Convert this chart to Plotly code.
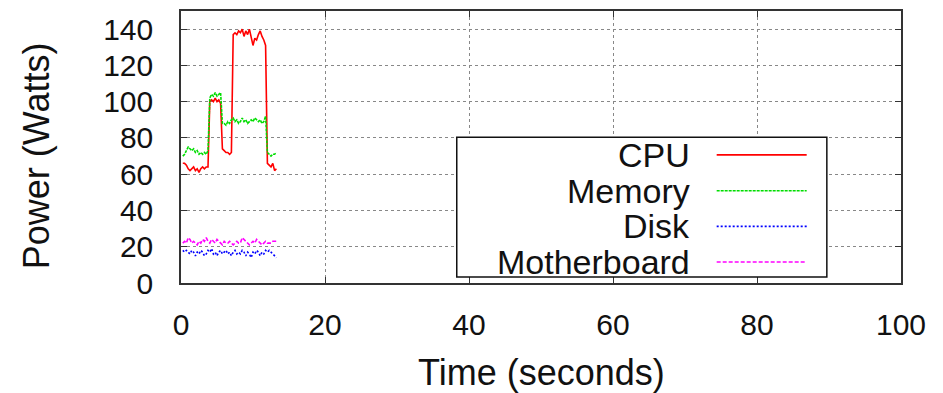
import plotly.graph_objects as go

time_s = [0.25, 0.5, 0.75, 1.0, 1.25, 1.5, 1.75, 2.0, 2.25, 2.5, 2.75, 3.0, 3.25, 3.5, 3.75,
          4.0, 4.25, 4.5, 4.75, 5.0, 5.25, 5.5, 5.75, 6.0, 6.25, 6.5, 6.75, 7.0, 7.25, 7.5,
          7.75, 8.0, 8.25, 8.5, 8.75, 9.0, 9.25, 9.5, 9.75, 10.0, 10.25, 10.5, 10.75, 11.0,
          11.25, 11.5, 11.75, 12.0, 12.25, 12.5, 12.75, 13.0, 13.25]

cpu = [66, 66, 65, 63, 62, 63, 64, 62, 63, 61, 63, 64, 63, 64, 64,
       100, 101, 100, 102, 100, 101, 99, 74, 73, 72, 72, 71, 72, 137, 138,
       137, 139, 138, 140, 136, 139, 137, 140, 136, 131, 135, 134, 137, 139,
       136, 134, 131, 66, 65, 64, 66, 62, 63]

memory = [70, 71, 73, 75, 74, 73, 74, 72, 73, 71, 72, 71, 72, 71, 73,
          102, 104, 103, 105, 103, 104, 105, 88, 88, 87, 89, 88, 90, 91, 89,
          90, 88, 89, 91, 89, 90, 88, 89, 90, 89, 91, 90, 89, 90,
          88, 89, 92, 72, 71, 70, 71, 71, 72]

disk = [18, 17, 18, 17, 16, 18, 17, 15, 17, 16, 18, 17, 15, 16, 18,
        17, 19, 16, 17, 15, 17, 18, 16, 17, 18, 16, 17, 15, 17, 18,
        16, 17, 16, 18, 17, 15, 17, 16, 14, 17, 16, 18, 17, 15,
        17, 16, 18, 17, 18, 17, 16, 15, 14]

motherboard = [22, 23, 22, 25, 24, 22, 23, 22, 21, 23, 22, 24, 23, 25, 23,
               22, 24, 23, 22, 24, 23, 22, 21, 23, 22, 22, 23, 22, 21, 22,
               23, 22, 22, 25, 24, 23, 22, 21, 22, 23, 22, 24, 23, 22,
               21, 22, 23, 22, 22, 22, 23, 23, 23]

series_names = ["CPU", "Memory", "Disk", "Motherboard"]
series_values = [cpu, memory, disk, motherboard]
colors = ["#ff0000", "#00dd00", "#0000ff", "#ff00ff"]
dashes = ["solid", "3px,1px", "2px,2px", "4px,2px"]

x_ticks = [0, 20, 40, 60, 80, 100]
y_ticks = [0, 20, 40, 60, 80, 100, 120, 140]

FONT = "Liberation Sans, Arial, Helvetica, sans-serif"

fig = go.Figure()
for name, vals, c, d in zip(series_names, series_values, colors, dashes):
    fig.add_trace(go.Scatter(x=time_s, y=vals, mode="lines", name=name,
                             line=dict(color=c, width=1.6, dash=d), showlegend=False))

axis_common = dict(
    showline=True, linecolor="#333", linewidth=1.5, mirror="ticks",
    ticks="inside", ticklen=6, tickcolor="#333", tickwidth=1,
    showgrid=True, gridcolor="#888", griddash="dot", gridwidth=1,
    zeroline=False, tickfont=dict(family=FONT, size=30, color="#111"),
)

fig.update_xaxes(range=[0, 100], tickvals=x_ticks, ticklabelstandoff=14, **axis_common)
fig.update_yaxes(range=[0, 150], tickvals=y_ticks, ticklabelstandoff=20, **axis_common)

# custom legend (text on left, sample on right) in paper coordinates
box = dict(x0=0.383, x1=0.897, y0=0.022, y1=0.536)
fig.add_shape(type="rect", xref="paper", yref="paper", **box,
              line=dict(color="#111", width=1.5), fillcolor="white", layer="above")
row_y = [0.471, 0.339, 0.208, 0.077]
for name, c, d, ry in zip(series_names, colors, dashes, row_y):
    fig.add_annotation(xref="paper", yref="paper", x=0.710, y=ry, text=name,
                       showarrow=False, xanchor="right", yanchor="middle",
                       font=dict(family=FONT, size=34, color="#111"))
    fig.add_shape(type="line", xref="paper", yref="paper", x0=0.744, x1=0.869,
                  y0=ry, y1=ry, line=dict(color=c, width=1.6, dash=d), layer="above")

# axis titles
fig.add_annotation(xref="paper", yref="paper", x=0.5, y=0, yshift=-89,
                   text="Time (seconds)", showarrow=False, xanchor="center",
                   yanchor="middle", font=dict(family=FONT, size=36, color="#111"))
fig.add_annotation(xref="paper", yref="paper", x=0, xshift=-145, y=0.466,
                   text="Power (Watts)", showarrow=False, textangle=-90,
                   xanchor="center", yanchor="middle",
                   font=dict(family=FONT, size=36, color="#111"))

fig.update_layout(
    width=943, height=393,
    margin=dict(l=181, r=42, t=9, b=110),
    paper_bgcolor="white", plot_bgcolor="white",
    font=dict(family=FONT),
)

fig.write_html("out.html", config={"displayModeBar": False},
               post_script="document.body.style.margin='0';document.body.style.overflow='hidden';")
